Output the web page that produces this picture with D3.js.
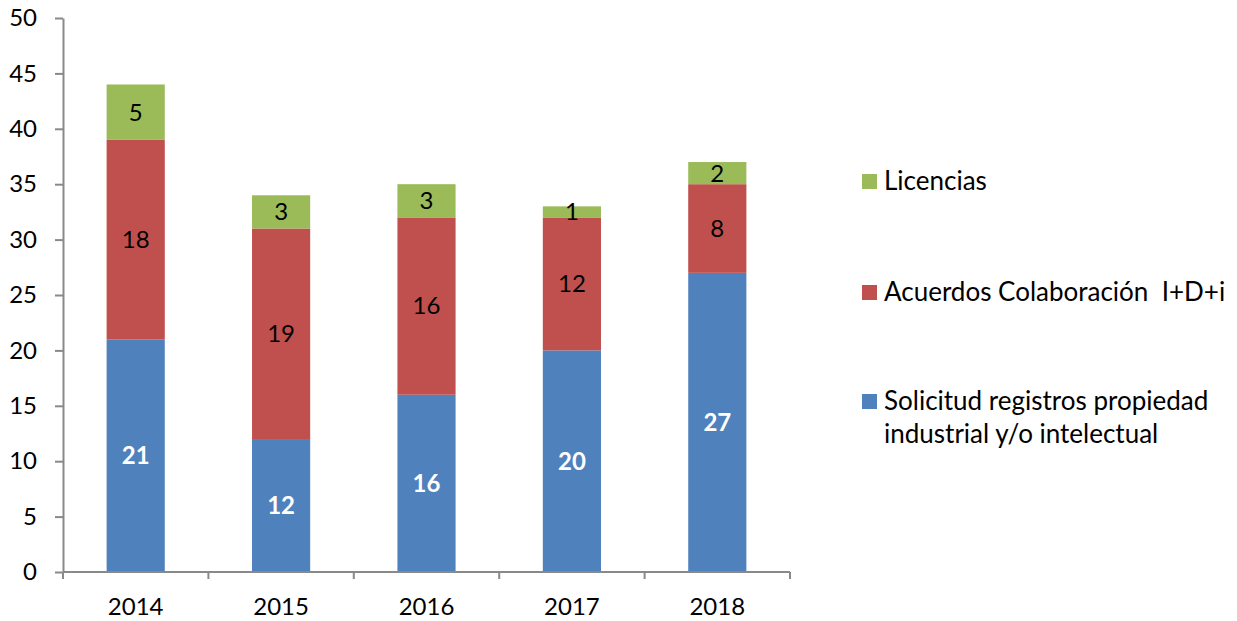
<!DOCTYPE html>
<html lang="es">
<head>
  <meta charset="utf-8">
  <script src="https://cdn.jsdelivr.net/npm/d3@7"></script>
  <style>
    body { margin: 0; background: #fff; }
    text { font-family: Lato, "Open Sans", sans-serif; }
  </style>
</head>
<body>
  <script>
    var years = ["2014", "2015", "2016", "2017", "2018"];
    var solicitud = [21, 12, 16, 20, 27];
    var acuerdos = [18, 19, 16, 12, 8];
    var licencias = [5, 3, 3, 1, 2];
    var seriesNames = ["Solicitud registros propiedad industrial y/o intelectual", "Acuerdos Colaboración  I+D+i", "Licencias"];
    var yTicks = [0, 5, 10, 15, 20, 25, 30, 35, 40, 45, 50];

    var colors = ["#4F81BD", "#C0504D", "#9BBB59"];
    var labelColors = ["#fff", "#000", "#000"];
    var labelWeights = ["bold", "normal", "normal"];

    var w = 1237, h = 621;
    var margin = { top: 18, left: 63, right: 447, bottom: 49 };
    var width = w - margin.left - margin.right;
    var height = h - margin.top - margin.bottom;

    var rows = years.map(function(y, i) {
      return { year: y, s0: solicitud[i], s1: acuerdos[i], s2: licencias[i] };
    });
    var stack = d3.stack().keys(["s0", "s1", "s2"]);
    var layers = stack(rows);

    var svg = d3.select("body").append("svg")
                .attr("width", w)
                .attr("height", h);
    var chart = svg.append("g")
                   .attr("transform", "translate(" + margin.left + "," + margin.top + ")");

    var x = d3.scaleBand().domain(years).range([0, width]).paddingInner(0.6).paddingOuter(0.3);
    var xb = d3.scaleBand().domain(years).range([0, width]);
    var y = d3.scaleLinear().domain([0, 50]).range([height, 0]);

    // bars
    var layer = chart.selectAll(".layer")
                     .data(layers)
                     .enter().append("g")
                     .attr("fill", function(d, i) { return colors[i]; });
    layer.selectAll("rect")
         .data(function(d) { return d; })
         .enter().append("rect")
         .attr("x", function(d) { return x(d.data.year); })
         .attr("width", x.bandwidth())
         .attr("y", function(d) { return y(d[1]); })
         .attr("height", function(d) { return y(d[0]) - y(d[1]); });

    // labels
    layers.forEach(function(l, li) {
      chart.selectAll(".lab" + li)
           .data(l)
           .enter().append("text")
           .attr("x", function(d) { return x(d.data.year) + x.bandwidth() / 2; })
           .attr("y", function(d) { return (y(d[0]) + y(d[1])) / 2; })
           .attr("dy", "0.35em")
           .attr("text-anchor", "middle")
           .attr("font-size", 24)
           .attr("font-weight", labelWeights[li])
           .attr("fill", labelColors[li])
           .text(function(d) { return d[1] - d[0]; });
    });

    // axes
    var yAxis = d3.axisLeft(y).tickValues(yTicks).tickSize(8).tickSizeOuter(0);
    var gy = chart.append("g").call(yAxis);
    gy.selectAll("text").attr("font-size", 24).attr("fill", "#000").attr("x", -26);

    var gx = chart.append("g").attr("transform", "translate(0," + height + ")");
    gx.append("line").attr("x1", 0).attr("x2", width).attr("y1", 0).attr("y2", 0);
    gx.selectAll(".tk")
      .data(years.concat(["end"]))
      .enter().append("line")
      .attr("x1", function(d, i) { return i * xb.bandwidth(); })
      .attr("x2", function(d, i) { return i * xb.bandwidth(); })
      .attr("y1", 0).attr("y2", 7);
    gx.selectAll(".xl")
      .data(years)
      .enter().append("text")
      .attr("x", function(d) { return xb(d) + xb.bandwidth() / 2; })
      .attr("y", 43)
      .attr("text-anchor", "middle")
      .attr("font-size", 24)
      .attr("fill", "#000")
      .text(function(d) { return d; });

    svg.selectAll(".domain, .tick line, g line").attr("stroke", "#898989").attr("stroke-width", 2);

    // legend
    var legend = svg.append("g").attr("transform", "translate(862,0)");
    var legendRows = [
      { i: 2, y: 181, lines: [seriesNames[2]] },
      { i: 1, y: 292, lines: [seriesNames[1]] },
      { i: 0, y: 401, lines: ["Solicitud registros propiedad", "industrial y/o intelectual"] }
    ];
    var li = legend.selectAll(".li").data(legendRows).enter().append("g");
    li.append("rect")
      .attr("x", 0).attr("y", function(d) { return d.y - 7; })
      .attr("width", 15).attr("height", 15)
      .attr("fill", function(d) { return colors[d.i]; });
    li.append("text")
      .attr("x", 22)
      .attr("y", function(d) { return d.y; })
      .attr("font-size", 26)
      .attr("fill", "#000")
      .selectAll("tspan")
      .data(function(d) { return d.lines; })
      .enter().append("tspan")
      .attr("x", 22)
      .attr("dy", function(d, k) { return k === 0 ? "0.35em" : "33"; })
      .attr("xml:space", "preserve")
      .style("white-space", "pre")
      .text(function(d) { return d; });
  </script>
</body>
</html>
